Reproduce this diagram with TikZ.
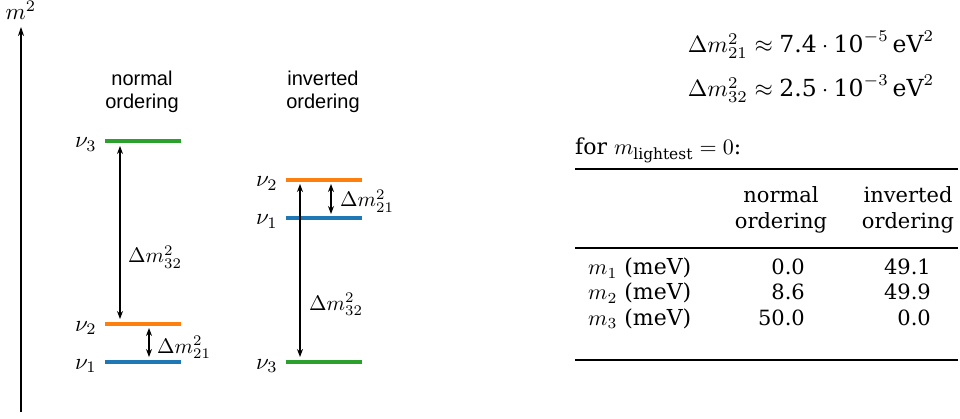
\documentclass[tikz,border=0pt]{standalone}
\usepackage{fontspec}
\setmainfont{DejaVu Serif}
\newfontfamily\sansf{Liberation Sans}
\usetikzlibrary{arrows.meta}
\definecolor{tabgreen}{HTML}{2CA02C}
\definecolor{taborange}{HTML}{FF7F0E}
\definecolor{tabblue}{HTML}{1F77B4}
\newcommand{\lightsub}{\mbox{\fontsize{7}{8}\selectfont lightest}}
\tikzset{
  level/.style={line width=4pt},
  gaparrow/.style={line width=1.2pt, {Stealth[length=8pt,width=6pt]}-{Stealth[length=8pt,width=6pt]}},
  head/.style={anchor=base, font=\sansf\fontsize{20}{23}\selectfont, inner sep=0pt},
  nulab/.style={anchor=base east, font=\fontsize{10}{12}\selectfont, inner sep=0pt},
  dlab/.style={anchor=base west, font=\fontsize{10}{12}\selectfont, inner sep=0pt},
  txt/.style={font=\fontsize{21}{25}\selectfont, inner sep=0pt},
  stxt/.style={font=\fontsize{10}{12}\selectfont, inner sep=0pt},
  eqtxt/.style={anchor=base, font=\fontsize{10}{12}\selectfont, inner sep=0pt},
  thickrule/.style={line width=2pt},
  thinrule/.style={line width=1.1pt},
}
\begin{document}
\begin{tikzpicture}[x=1pt,y=-1pt]
\useasboundingbox (0,0) rectangle (960,419);
% axis
\coordinate (axb) at (21,412);
\coordinate (axt) at (21,27);
\draw[line width=1.2pt, -{Stealth[length=9pt,width=6pt]}] (axb) -- (axt);
\node[anchor=base, stxt] (axlab) at (21,20) {\scalebox{2.3}{$m^2$}};

% headings
\node[head] (hno1) at (142,86) {normal};
\node[head] (hno2) at (142,109) {ordering};
\node[head] (hio1) at (323,86) {inverted};
\node[head] (hio2) at (323,109) {ordering};

% normal ordering levels
\coordinate (no3l) at (105,141); \coordinate (no3r) at (181,141);
\coordinate (no2l) at (105,324); \coordinate (no2r) at (181,324);
\coordinate (no1l) at (105,362); \coordinate (no1r) at (181,362);
\draw[level, tabgreen] (no3l) -- (no3r);
\draw[level, taborange] (no2l) -- (no2r);
\draw[level, tabblue] (no1l) -- (no1r);
\node[nulab] (lno3) at (97,148) {\scalebox{2.3}{$\nu_3$}};
\node[nulab] (lno2) at (97,331) {\scalebox{2.3}{$\nu_2$}};
\node[nulab] (lno1) at (97,369) {\scalebox{2.3}{$\nu_1$}};

\coordinate (a32t) at (120,146); \coordinate (a32b) at (120,319);
\draw[gaparrow] (a32t) -- (a32b);
\coordinate (a21t) at (149,328); \coordinate (a21b) at (149,357);
\draw[gaparrow] (a21t) -- (a21b);
\node[dlab] (dno32) at (128,263) {\scalebox{2.1}{$\Delta m^2_{32}$}};
\node[dlab] (dno21) at (157,353) {\scalebox{2.1}{$\Delta m^2_{21}$}};

% inverted ordering levels
\coordinate (io2l) at (286,180); \coordinate (io2r) at (362,180);
\coordinate (io1l) at (286,218); \coordinate (io1r) at (362,218);
\coordinate (io3l) at (286,362); \coordinate (io3r) at (362,362);
\draw[level, taborange] (io2l) -- (io2r);
\draw[level, tabblue] (io1l) -- (io1r);
\draw[level, tabgreen] (io3l) -- (io3r);
\node[nulab] (lio2) at (278,187) {\scalebox{2.3}{$\nu_2$}};
\node[nulab] (lio1) at (278,225) {\scalebox{2.3}{$\nu_1$}};
\node[nulab] (lio3) at (278,369) {\scalebox{2.3}{$\nu_3$}};

\coordinate (b21t) at (331,184); \coordinate (b21b) at (331,214);
\draw[gaparrow] (b21t) -- (b21b);
\coordinate (b32t) at (300,184); \coordinate (b32b) at (300,357);
\draw[gaparrow] (b32t) -- (b32b);
\node[dlab] (dio21) at (340,207) {\scalebox{2.1}{$\Delta m^2_{21}$}};
\node[dlab] (dio32) at (309,310) {\scalebox{2.1}{$\Delta m^2_{32}$}};

% equations
\node[eqtxt] (eq1) at (811,53) {\scalebox{2.35}{$\Delta m^2_{21} \approx \mbox{7.4}\cdot\mbox{10}^{-5}\,\mbox{eV}^2$}};
\node[eqtxt] (eq2) at (811,97) {\scalebox{2.35}{$\Delta m^2_{32} \approx \mbox{2.5}\cdot\mbox{10}^{-3}\,\mbox{eV}^2$}};

% table
\node[stxt, anchor=base west] (tcap) at (575,155) {\scalebox{2.2}{for $m_{\lightsub}=0$:}};
\coordinate (r1l) at (575,169); \coordinate (r1r) at (958,169);
\coordinate (r2l) at (575,248); \coordinate (r2r) at (958,248);
\coordinate (r3l) at (575,360); \coordinate (r3r) at (958,360);
\draw[thickrule] (r1l) -- (r1r);
\draw[thinrule] (r2l) -- (r2r);
\draw[thickrule] (r3l) -- (r3r);
\node[txt, anchor=base] (hn1) at (781,203) {normal};
\node[txt, anchor=base] (hn2) at (781,229) {ordering};
\node[txt, anchor=base] (hi1) at (908,203) {inverted};
\node[txt, anchor=base] (hi2) at (908,229) {ordering};
\node[stxt, anchor=base west] (m1) at (588,275) {\scalebox{2.2}{$m_1$ (meV)}};
\node[stxt, anchor=base west] (m2) at (588,300) {\scalebox{2.2}{$m_2$ (meV)}};
\node[stxt, anchor=base west] (m3) at (588,325) {\scalebox{2.2}{$m_3$ (meV)}};
\node[txt, anchor=base east] (n1) at (805,275) {0.0};
\node[txt, anchor=base east] (n2) at (805,300) {8.6};
\node[txt, anchor=base east] (n3) at (805,325) {50.0};
\node[txt, anchor=base east] (i1) at (931,275) {49.1};
\node[txt, anchor=base east] (i2) at (931,300) {49.9};
\node[txt, anchor=base east] (i3) at (931,325) {0.0};
\end{tikzpicture}
\end{document}
